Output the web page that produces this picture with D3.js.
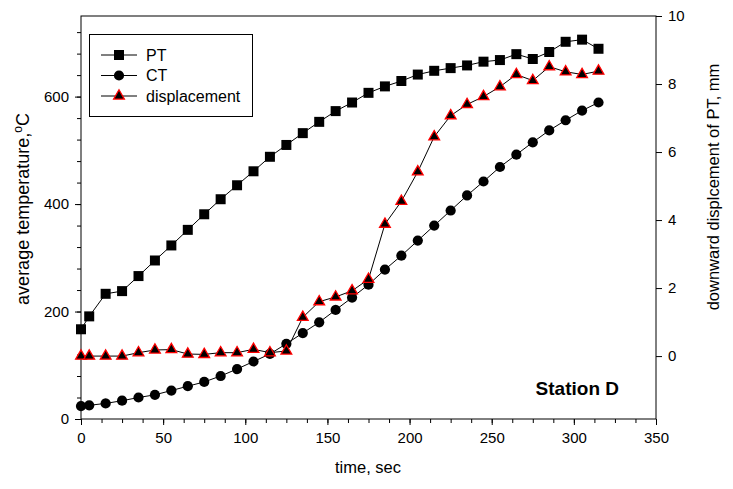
<!DOCTYPE html>
<html><head><meta charset="utf-8">
<script src="https://cdn.jsdelivr.net/npm/d3@7"></script>
<style>body{margin:0;background:#fff}svg{display:block}text{font-family:"Liberation Sans",Arial,sans-serif}</style>
</head><body><svg id="c" width="733" height="489"></svg>
<script>
const times = [0,5,15,25,35,45,55,65,75,85,95,105,115,125,135,145,155,165,175,185,195,205,215,225,235,245,255,265,275,285,295,305,315];
const ptValues = [167,191,233,238,266,295,323,352,381,409,435,461,488,510,532,553,573,589,607,619,629,641,648,653,658,665,668,679,670,683,702,706,689];
const ctValues = [24,25.5,29,34,40,45,53,61,69,80,93,107,121,140,160,180,203,226,250,278,304,332,360,388,416,442,469,492,515,537,556,574,589];
const dispValues = [0,0,0,0,0.1,0.18,0.19,0.06,0.05,0.1,0.1,0.2,0.1,0.15,1.14,1.6,1.74,1.92,2.26,3.88,4.55,5.42,6.45,7.07,7.4,7.63,7.92,8.28,8.1,8.51,8.36,8.28,8.38];
const xTicks = [0,50,100,150,200,250,300,350];
const yLeftTicks = [0,200,400,600];
const yRightTicks = [0,2,4,6,8,10];
const seriesNames = ["PT","CT","displacement"];

const svg = d3.select("#c");
const L=81,R=656,T=16,B=419;
const x = d3.scaleLinear([0,350],[L,R]);
const yL = d3.scaleLinear([0,750],[B,T]);
const yR = d3.scaleLinear([-1.85,10],[B,T]);

svg.append("rect").attr("x",L).attr("y",T).attr("width",R-L).attr("height",B-T)
  .attr("fill","none").attr("stroke","#000").attr("stroke-width",1);

function styleAxis(g){
  g.select(".domain").remove();
  g.selectAll("line").attr("stroke","#000");
  g.selectAll("text").attr("font-size",15).attr("fill","#000");
}
const xMinor = d3.range(0,350.1,12.5);
svg.append("g").attr("transform",`translate(0,${B})`)
  .call(d3.axisBottom(x).tickValues(xMinor).tickSize(4).tickFormat(""))
  .call(styleAxis);
svg.append("g").attr("transform",`translate(0,${B})`)
  .call(d3.axisBottom(x).tickValues(xTicks).tickSize(6).tickPadding(7).tickFormat(d3.format("d")))
  .call(styleAxis);
const yMinor = d3.range(0,721,40);
svg.append("g").attr("transform",`translate(${L},0)`)
  .call(d3.axisLeft(yL).tickValues(yMinor).tickSize(4).tickFormat(""))
  .call(styleAxis);
svg.append("g").attr("transform",`translate(${L},0)`)
  .call(d3.axisLeft(yL).tickValues(yLeftTicks).tickSize(6).tickPadding(6).tickFormat(d3.format("d")))
  .call(styleAxis);
svg.append("g").attr("transform",`translate(${R},0)`)
  .call(d3.axisRight(yR).tickValues(yRightTicks).tickSize(6).tickPadding(6).tickFormat(d3.format("d")))
  .call(styleAxis);

svg.append("text").attr("x",368).attr("y",473).attr("text-anchor","middle").attr("font-size",16.5).text("time, sec");
const lt = svg.append("text").attr("transform",`translate(29,209) rotate(-90)`)
  .attr("text-anchor","middle").attr("font-size",18);
lt.append("tspan").text("average temperature,");
lt.append("tspan").attr("dy",-7).attr("font-size",12).text("o");
lt.append("tspan").attr("dy",7).text("C");
svg.append("text").attr("transform",`translate(719,187) rotate(-90)`)
  .attr("text-anchor","middle").attr("font-size",16.5).text("downward displcement of PT, mm");

svg.append("text").attr("x",619).attr("y",395).attr("text-anchor","end")
  .attr("font-size",19).attr("font-weight","bold").text("Station D");

const lineL = d3.line().x((d,i)=>x(times[i])).y(d=>yL(d));
const lineR = d3.line().x((d,i)=>x(times[i])).y(d=>yR(d));
svg.append("path").datum(ptValues).attr("d",lineL).attr("fill","none").attr("stroke","#000");
svg.append("path").datum(ctValues).attr("d",lineL).attr("fill","none").attr("stroke","#000");
svg.append("path").datum(dispValues).attr("d",lineR).attr("fill","none").attr("stroke","#000");

const sq = d3.symbol().type(d3.symbolSquare).size(100)();
const ci = d3.symbol().type(d3.symbolCircle).size(82)();
const tr = d3.symbol().type(d3.symbolTriangle).size(50)();

svg.append("g").selectAll("path").data(ptValues).join("path")
  .attr("d",sq).attr("transform",(d,i)=>`translate(${x(times[i])},${yL(d)})`).attr("fill","#000");
svg.append("g").selectAll("path").data(ctValues).join("path")
  .attr("d",ci).attr("transform",(d,i)=>`translate(${x(times[i])},${yL(d)})`).attr("fill","#000");
svg.append("g").selectAll("path").data(dispValues).join("path")
  .attr("d",tr).attr("transform",(d,i)=>`translate(${x(times[i])},${yR(d)})`)
  .attr("fill","#000").attr("stroke","#ff0000").attr("stroke-width",1.3);

const lg = svg.append("g");
lg.append("rect").attr("x",89.5).attr("y",34.5).attr("width",163).attr("height",82)
  .attr("fill","#fff").attr("stroke","#000");
const shapes=[sq,ci,tr];
seriesNames.forEach((n,i)=>{
  const yy = 55 + i*20.5;
  lg.append("line").attr("x1",101).attr("x2",137).attr("y1",yy).attr("y2",yy).attr("stroke","#000");
  const m = lg.append("path").attr("d",shapes[i]).attr("transform",`translate(119,${yy})`).attr("fill","#000");
  if(i===2) m.attr("stroke","#ff0000").attr("stroke-width",1.3);
  lg.append("text").attr("x",146).attr("y",yy+5.5).attr("font-size",16).text(n);
});
</script></body></html>
